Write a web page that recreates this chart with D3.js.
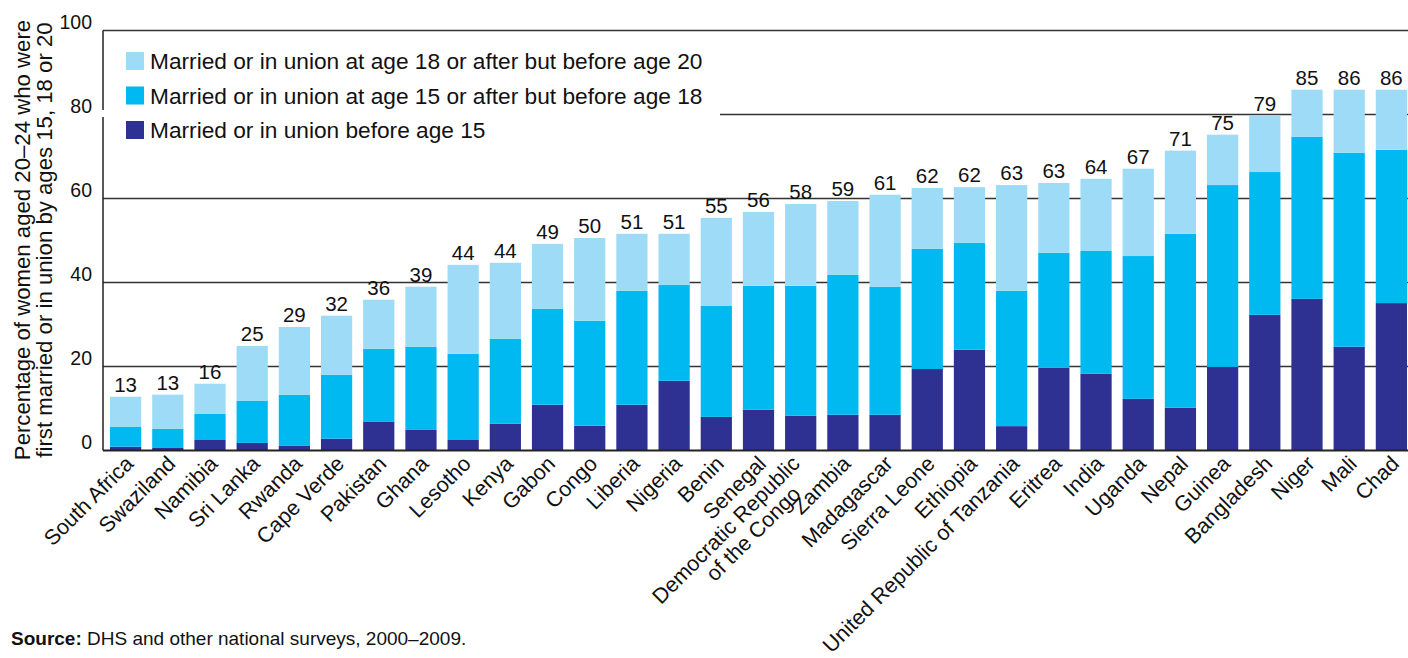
<!DOCTYPE html>
<html>
<head>
<meta charset="utf-8">
<script src="https://cdn.jsdelivr.net/npm/d3@7"></script>
<style>
  body { margin: 0; background: #fff; }
  svg { display: block; font-family: "Liberation Sans", Arial, sans-serif; }
</style>
</head>
<body>
<svg id="chart"></svg>
<script>
// Data
const countries = ["South Africa", "Swaziland", "Namibia", "Sri Lanka", "Rwanda", "Cape Verde",
  "Pakistan", "Ghana", "Lesotho", "Kenya", "Gabon", "Congo", "Liberia", "Nigeria", "Benin",
  "Senegal", "Democratic Republic|of the Congo", "Zambia", "Madagascar", "Sierra Leone",
  "Ethiopia", "United Republic of Tanzania", "Eritrea", "India", "Uganda", "Nepal", "Guinea",
  "Bangladesh", "Niger", "Mali", "Chad"];

const before15 = [0.9, 0.6, 2.5, 1.8, 1.1, 2.8, 6.8, 4.9, 2.5, 6.4, 10.9, 5.9, 10.9, 16.6, 8.0,
  9.7, 8.3, 8.5, 8.5, 19.4, 24.0, 5.8, 19.7, 18.3, 12.3, 10.2, 19.9, 32.3, 36.1, 24.7, 35.1];
const from15to18 = [4.7, 4.6, 6.2, 10.0, 12.2, 15.2, 17.4, 19.8, 20.5, 20.2, 22.8, 25.0, 27.1, 22.8, 26.4,
  29.5, 30.9, 33.3, 30.5, 28.6, 25.4, 32.2, 27.4, 29.3, 34.0, 41.4, 43.3, 34.0, 38.6, 46.2, 36.5];
const from18to20 = [7.2, 8.1, 7.2, 13.1, 16.1, 14.1, 11.7, 14.3, 21.2, 18.1, 15.5, 19.7, 13.6, 12.2, 21.0,
  17.6, 19.5, 17.6, 21.9, 14.5, 13.3, 25.2, 16.6, 17.1, 20.8, 19.8, 12.0, 13.4, 11.2, 15.0, 14.3];
const totals = [13, 13, 16, 25, 29, 32, 36, 39, 44, 44, 49, 50, 51, 51, 55, 56, 58, 59, 61, 62,
  62, 63, 63, 64, 67, 71, 75, 79, 85, 86, 86];

const yTicks = [0, 20, 40, 60, 80, 100];
const seriesKeys = ["before15", "from15to18", "from18to20"];
const seriesLabels = {
  from18to20: "Married or in union at age 18 or after but before age 20",
  from15to18: "Married or in union at age 15 or after but before age 18",
  before15: "Married or in union before age 15"
};
const colors = { before15: "#2e3192", from15to18: "#00b9f0", from18to20: "#9ddbf7" };

const width = 1408, height = 658;
const plotLeft = 103, plotRight = 1408;

const svg = d3.select("#chart").attr("width", width).attr("height", height);

const rows = countries.map((c, i) => ({
  country: c, before15: before15[i], from15to18: from15to18[i], from18to20: from18to20[i], total: totals[i]
}));

const x = d3.scaleBand()
  .domain(countries)
  .range([plotLeft, 1414])
  .paddingInner(0.26)
  .paddingOuter(0.166);

const y = d3.scaleLinear().domain([0, 100]).range([450.5, 30.5]);

// Gridlines (80 line is hidden behind the legend on the left)
svg.append("g").selectAll("line")
  .data(yTicks.filter(d => d > 0))
  .join("line")
  .attr("x1", d => d === 80 ? 720 : plotLeft)
  .attr("x2", plotRight)
  .attr("y1", d => y(d)).attr("y2", d => y(d))
  .attr("stroke", "#333").attr("stroke-width", 1.5);

// Stacked bars
const stacked = d3.stack().keys(seriesKeys)(rows);
svg.append("g").selectAll("g")
  .data(stacked)
  .join("g")
  .attr("fill", d => colors[d.key])
  .selectAll("rect")
  .data(d => d)
  .join("rect")
  .attr("x", d => x(d.data.country))
  .attr("width", x.bandwidth())
  .attr("y", d => y(d[1]))
  .attr("height", d => y(d[0]) - y(d[1]));

// Axis lines
svg.append("line")
  .attr("x1", plotLeft).attr("x2", plotLeft)
  .attr("y1", y(100)).attr("y2", y(0))
  .attr("stroke", "#222").attr("stroke-width", 1.5);
svg.append("rect").attr("x", plotLeft - 2).attr("y", 110).attr("width", 4).attr("height", 7).attr("fill", "#fff");
svg.append("line")
  .attr("x1", plotLeft).attr("x2", plotRight)
  .attr("y1", y(0)).attr("y2", y(0))
  .attr("stroke", "#222").attr("stroke-width", 2);

// Y tick labels
svg.append("g").selectAll("text")
  .data(yTicks)
  .join("text")
  .attr("x", 92)
  .attr("y", d => y(d) - 2)
  .attr("text-anchor", "end")
  .attr("font-size", 19.5)
  .attr("fill", "#111")
  .text(d => d);

// Y axis title
const yTitle = svg.append("text")
  .attr("transform", `translate(30, 240) rotate(-90)`)
  .attr("text-anchor", "middle")
  .attr("font-size", 22.2)
  .attr("fill", "#111");
yTitle.append("tspan").attr("x", 0).attr("y", 0).text("Percentage of women aged 20–24 who were");
yTitle.append("tspan").attr("x", 0).attr("y", 22).text("first married or in union by ages 15, 18 or 20");

// Value labels
svg.append("g").selectAll("text")
  .data(rows)
  .join("text")
  .attr("x", d => x(d.country) + x.bandwidth() / 2)
  .attr("y", d => y(d3.sum(seriesKeys, k => d[k])) - 5)
  .attr("text-anchor", "middle")
  .attr("font-size", 20.5)
  .attr("fill", "#111")
  .text(d => d.total);

// X labels, rotated
const xl = svg.append("g").selectAll("text")
  .data(countries)
  .join("text")
  .attr("transform", d => `translate(${x(d) + x.bandwidth() / 2 + 9}, 465) rotate(-45)`)
  .attr("text-anchor", "end")
  .attr("font-size", 21.5)
  .attr("fill", "#111");
xl.each(function(d) {
  const parts = d.split("|");
  const t = d3.select(this);
  if (parts.length === 1) {
    t.append("tspan").attr("x", 0).attr("y", 0).text(d);
  } else {
    // two-line label, second line shifted like the original
    t.append("tspan").attr("x", -6).attr("y", -6).text(parts[0]);
    t.append("tspan").attr("x", -27).attr("y", 16).text(parts[1]);
  }
});

// Legend
const legend = svg.append("g").attr("transform", "translate(126, 52)");
["from18to20", "from15to18", "before15"].forEach((k, i) => {
  const g = legend.append("g").attr("transform", `translate(0, ${i * 34.5})`);
  g.append("rect").attr("width", 18).attr("height", 18).attr("fill", colors[k]);
  g.append("text").attr("x", 24).attr("y", 17).attr("font-size", 22.7).attr("fill", "#111").text(seriesLabels[k]);
});

// Source
const src = svg.append("text").attr("x", 11).attr("y", 645).attr("font-size", 19).attr("fill", "#111");
src.append("tspan").attr("font-weight", "bold").text("Source:");
src.append("tspan").text(" DHS and other national surveys, 2000–2009.");
</script>
</body>
</html>
